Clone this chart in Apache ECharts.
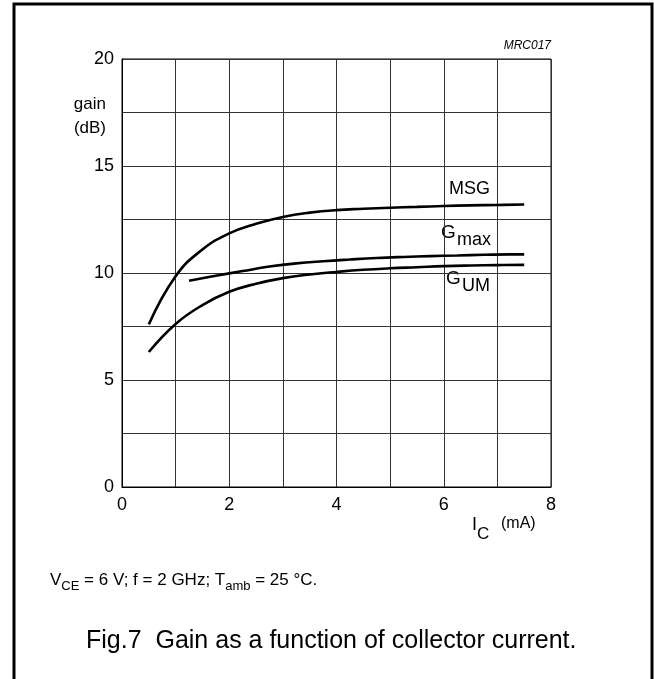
<!DOCTYPE html>
<html><head><meta charset="utf-8">
<script src="https://cdn.jsdelivr.net/npm/echarts@6/dist/echarts.min.js"></script>
<style>html,body{margin:0;padding:0;background:#fff}#c{width:654px;height:679px}</style>
</head><body><div id="c"></div>
<script>
// ---- data ----
const icMsg  = [0.5,1.0,1.5,2.0,2.5,3.0,3.5,4.0,4.5,5.0,5.5,6.0,6.5,7.0,7.5];
const msg    = [7.6,9.85,11.1,11.85,12.3,12.62,12.82,12.94,13.0,13.05,13.09,13.13,13.16,13.18,13.2];
const icGmax = [1.25,1.75,2.25,2.75,3.25,3.75,4.25,4.75,5.25,5.75,6.25,6.75,7.25,7.5];
const gmax   = [9.64,9.87,10.09,10.3,10.45,10.55,10.63,10.7,10.75,10.79,10.82,10.85,10.87,10.87];
const icGum  = [0.5,1.0,1.5,2.0,2.5,3.0,3.5,4.0,4.5,5.0,5.5,6.0,6.5,7.0,7.5];
const gum    = [6.31,7.62,8.5,9.12,9.5,9.76,9.93,10.05,10.15,10.22,10.27,10.32,10.35,10.37,10.38];
const xTickLabels = ['0','','2','','4','','6','','8'];
const yTickLabels = ['0','','5','','10','','15','','20'];

const FF = "'Liberation Sans', Arial, Helvetica, sans-serif";
const pairs = (xs, ys) => xs.map((x, i) => [x, ys[i]]);

function txt(x, y, text, size, opts) {
  opts = opts || {};
  const align = opts.align || 'left';
  return {
    type: 'text', x: x, y: y, silent: true,
    style: {
      text: text, fill: '#000',
      font: (opts.italic ? 'italic ' : '') + size + 'px ' + FF,
      textAlign: align, align: align,
      textVerticalAlign: 'middle', verticalAlign: 'middle'
    }
  };
}
function richTxt(x, y, text, big, small) {
  return {
    type: 'text', x: x, y: y, silent: true,
    style: {
      text: text, fill: '#000', fontFamily: FF, fontSize: big,
      textAlign: 'left', align: 'left',
      textVerticalAlign: 'middle', verticalAlign: 'middle',
      rich: {
        n: {fontSize: big, fontFamily: FF, fill: '#000', lineHeight: big + 8, verticalAlign: 'middle'},
        s: {fontSize: small, fontFamily: FF, fill: '#000', lineHeight: small, verticalAlign: 'bottom'}
      }
    }
  };
}

const chart = echarts.init(document.getElementById('c'), null, {renderer: 'canvas'});
const lineSeries = (data) => ({
  type: 'line', data: data, showSymbol: false, smooth: 0.45,
  lineStyle: {color: '#000', width: 2.6}, silent: true
});

chart.setOption({
  animation: false,
  backgroundColor: '#fff',
  grid: {left: 122, top: 59, width: 429, height: 428, show: true,
         borderColor: '#000', borderWidth: 1, backgroundColor: 'transparent'},
  xAxis: {
    type: 'value', min: 0, max: 8, interval: 1,
    axisLine: {show: true, lineStyle: {color: '#000', width: 1}},
    axisTick: {show: false},
    splitLine: {show: true, lineStyle: {color: '#333', width: 1}},
    axisLabel: {color: '#000', fontSize: 18, fontFamily: FF, margin: 9,
                formatter: v => xTickLabels[Math.round(v)] || ''}
  },
  yAxis: {
    type: 'value', min: 0, max: 20, interval: 2.5,
    axisLine: {show: true, lineStyle: {color: '#000', width: 1}},
    axisTick: {show: false},
    splitLine: {show: true, lineStyle: {color: '#333', width: 1}},
    axisLabel: {color: '#000', fontSize: 18, fontFamily: FF, margin: 8,
                formatter: v => yTickLabels[Math.round(v / 2.5)] || ''}
  },
  series: [
    lineSeries(pairs(icMsg, msg)),
    lineSeries(pairs(icGmax, gmax)),
    lineSeries(pairs(icGum, gum))
  ],
  graphic: [
    {type: 'polyline', silent: true,
     shape: {points: [[14, 720], [14, 4], [652, 4], [652, 720]]},
     style: {stroke: '#000', lineWidth: 3, fill: null}},
    txt(551, 46, 'MRC017', 12, {italic: true, align: 'right'}),
    txt(106, 104, 'gain', 17, {align: 'right'}),
    txt(106, 128, '(dB)', 17, {align: 'right'}),
    txt(449, 189, 'MSG', 18),
    txt(441, 233, 'G', 19),
    txt(457, 240, 'max', 18),
    txt(446, 279, 'G', 19),
    txt(462, 286, 'UM', 18),
    txt(472, 525, 'I', 18),
    txt(477, 534, 'C', 17),
    txt(501, 524, '(mA)', 16),
    richTxt(50, 580, '{n|V}{s|CE}{n| = 6 V; f = 2 GHz; T}{s|amb}{n| = 25 \u00B0C.}', 17, 13),
    txt(86, 641, 'Fig.7  Gain as a function of collector current.', 25)
  ]
});
</script></body></html>
